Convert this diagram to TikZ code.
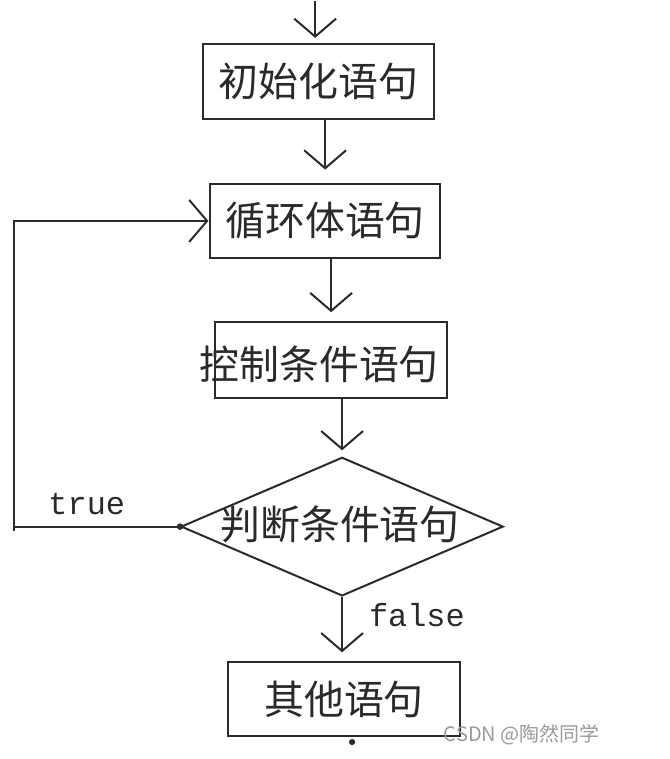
\documentclass[tikz,border=0pt]{standalone}
\usepackage{fontspec}
\newfontfamily\cjk{Noto Sans CJK SC}
\newfontfamily\monof{Liberation Mono}
\usetikzlibrary{shapes.geometric,arrows.meta,calc}
\definecolor{ink}{HTML}{2A2A2A}
\definecolor{wm}{HTML}{9A9A9A}
\begin{document}
\begin{tikzpicture}[x=1pt,y=-1pt,
  every path/.style={line width=2pt,draw=ink},
  boxnode/.style={draw=ink,line width=2pt,rectangle,inner sep=0pt,
    font=\cjk\fontsize{40}{44}\selectfont,text=ink},
  lbl/.style={inner sep=0pt,font=\cjk\fontsize{40}{44}\selectfont,text=ink},
  tf/.style={inner sep=0pt,font=\monof\fontsize{32}{36}\selectfont,text=ink,anchor=base},
  arr/.style={-{Straight Barb[length=18pt,width=42pt,line width=2pt]}}]
\useasboundingbox (0,0) rectangle (669,759);
\fill[white] (0,0) rectangle (669,759);
% boxes
\node[boxnode,minimum width=231pt,minimum height=75pt] (b1) at (318.5,80.5) {初始化语句};
\node[boxnode,minimum width=230pt,minimum height=75pt] (b2) at (325,220.5) {循环体语句};
\node[boxnode,minimum width=232pt,minimum height=76pt] (b3) at (331,360) {};
\node[lbl] (t3) at (319,364) {控制条件语句};
\node[draw=ink,line width=2pt,diamond,inner sep=0pt,minimum width=323pt,minimum height=139pt] (d) at (342,527) {};
\node[lbl] (td) at (340,525) {判断条件语句};
\node[boxnode,minimum width=232pt,minimum height=74pt] (b4) at (344,700) {其他语句};
% arrows
\coordinate (top) at (315,0);
\draw[arr,shorten >=5pt] (top) -- (top |- b1.north);
\draw[arr,shorten >=13pt] (b2.north |- b1.south) -- (b2.north);
\draw[arr,shorten >=9pt] (b3.north |- b2.south) -- (b3.north);
\draw[arr,shorten >=6pt] (d.north |- b3.south) -- (d.north);
\draw[arr,shorten >=9pt] (d.south) -- (d.south |- b4.north);
% loop back
\coordinate (lb) at (13,531);
\draw (d.west) -- (d.west -| lb);
\draw[arr,shorten >=1pt] (lb) -- (lb |- b2.west) -- (b2.west);
\fill[ink] (d.west) circle (2.2pt);
% labels
\node[tf] (ltrue) at (86,515) {true};
\node[tf] (lfalse) at (417,627) {false};
% watermark and dot
\node[inner sep=0pt,font=\cjk\fontsize{20}{22}\selectfont,text=wm] (wmk) at (522,736) {CSDN @陶然同学};
\fill[ink] (352,743) circle (2pt);
\end{tikzpicture}
\end{document}
